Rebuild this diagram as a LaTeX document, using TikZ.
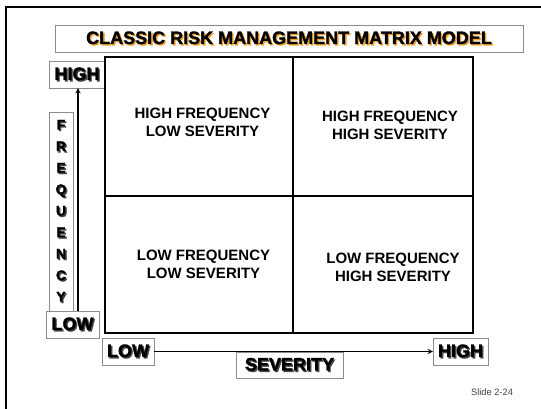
\documentclass[tikz,border=0pt]{standalone}
\usepackage{fontspec}
\setmainfont{Liberation Sans}
\newfontfamily\heavyfont{Liberation Sans}[BoldFeatures={FakeBold=1.5}]
\usepackage{tikz}
\usetikzlibrary{arrows}
\definecolor{titleorange}{RGB}{238,160,40}
\definecolor{boxgray}{RGB}{140,140,140}
\definecolor{shadegray}{RGB}{70,70,70}
\newcommand{\shadowed}[2]{\rlap{\kern1.4pt\raisebox{-1.4pt}{\textcolor{#1}{#2}}}#2}
\tikzstyle{labelbox} = [rectangle, draw=boxgray, fill=white, inner sep=0pt,
minimum height=27pt, font=\fontsize{18}{20}\selectfont\heavyfont\bfseries]
\tikzstyle{quadtext} = [align=center, font=\fontsize{15}{18}\selectfont\bfseries]
\tikzstyle{grid} = [line width=2pt]
\tikzstyle{arrow} =
[line width=1.3pt,->,>=stealth]

\begin{document}
\begin{tikzpicture}[x=1pt, y=-1pt]
\useasboundingbox (0,0) rectangle (541,409);

% slide frame
\draw[grid] (541,7) -- (6,7) -- (6,409);

\node(title)[labelbox, minimum width=468pt] at (289,38.5)
{\shadowed{titleorange}{CLASSIC RISK MANAGEMENT MATRIX MODEL}};

% frequency axis
\node(highf)[labelbox, minimum width=56pt] at (77,74.5) {\shadowed{shadegray}{HIGH}};
\node(freq)[labelbox, minimum width=24pt, minimum height=199pt, align=center,
font=\fontsize{14}{21.5}\selectfont\heavyfont\bfseries] at (61,211.5)
{\shadowed{shadegray}{F}\\\shadowed{shadegray}{R}\\\shadowed{shadegray}{E}\\
\shadowed{shadegray}{Q}\\\shadowed{shadegray}{U}\\\shadowed{shadegray}{E}\\
\shadowed{shadegray}{N}\\\shadowed{shadegray}{C}\\\shadowed{shadegray}{Y}};
\node(lowf)[labelbox, minimum width=53pt] at (72.5,324.5) {\shadowed{shadegray}{LOW}};

% the matrix
\draw[grid] (105,57) rectangle (473,333);
\draw[grid] (293,57) -- (293,333);
\draw[grid] (105,196) -- (473,196);

\node(hfls)[quadtext] at (202.5,122) {HIGH FREQUENCY\\LOW SEVERITY};
\node(hfhs)[quadtext] at (390,125) {HIGH FREQUENCY\\HIGH SEVERITY};
\node(lfls)[quadtext] at (203.5,264) {LOW FREQUENCY\\LOW SEVERITY};
\node(lfhs)[quadtext] at (393,267) {LOW FREQUENCY\\HIGH SEVERITY};

% severity axis
\node(lows)[labelbox, minimum width=52pt] at (128,351.5) {\shadowed{shadegray}{LOW}};
\node(highs)[labelbox, minimum width=55pt] at (460.5,351.5) {\shadowed{shadegray}{HIGH}};

\draw[arrow]([xshift=5.5pt]lowf.north) -- ([xshift=5.5pt]lowf.north |- highf.south);
\draw[arrow](lows) -- (highs);

\node(sev)[labelbox, minimum width=107pt, minimum height=26pt] at (289.5,365)
{\shadowed{shadegray}{SEVERITY}};

\node(slide)[font=\fontsize{9.3}{11}\selectfont, text=black!75] at (492,392)
{Slide 2-24};

\end{tikzpicture}
\end{document}
